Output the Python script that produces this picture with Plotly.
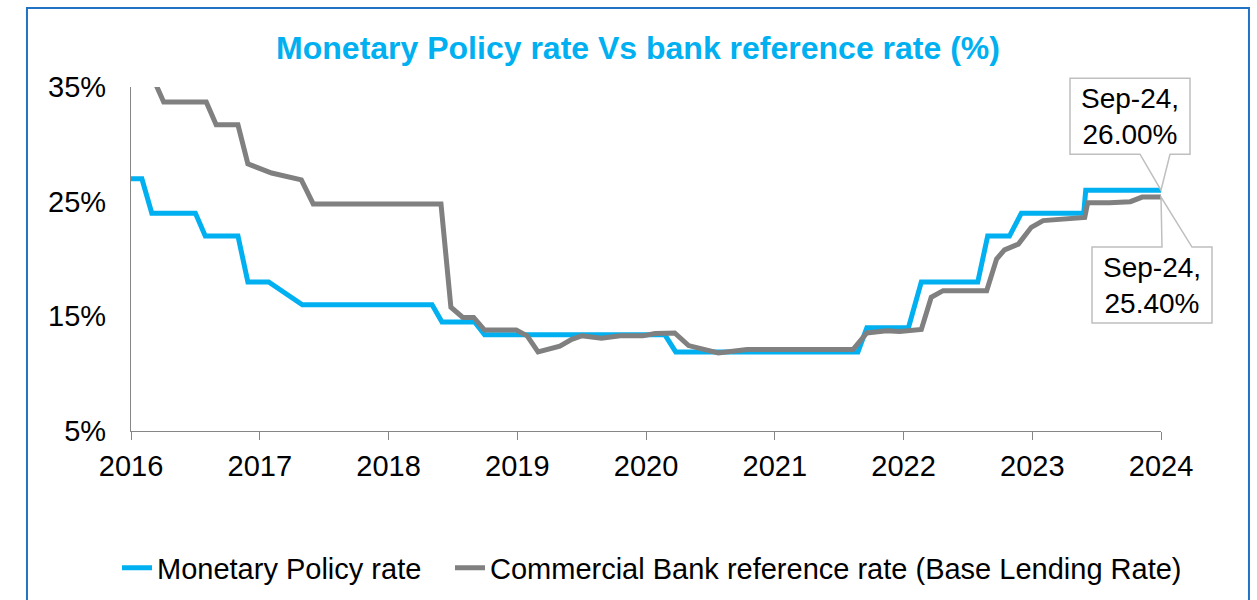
import plotly.graph_objects as go

# x positions are month indices (0 = Jan 2016, 104 = Sep 2024)
months_policy = [0, 1.1, 2.1, 6.5, 7.5, 10.8, 11.8, 13.9, 17.3, 30.4, 31.4, 34.7, 35.7,
                 53.9, 55.0, 73.4, 74.3, 78.5, 79.8, 85.5, 86.5, 88.7, 89.9, 96.2, 96.4, 104]
policy_rate = [27, 27, 24, 24, 22, 22, 18, 18, 16, 16, 14.5, 14.5, 13.4,
               13.4, 11.9, 11.9, 14, 14, 18, 18, 22, 22, 24, 24, 26, 26]

months_bank = [0, 2.0, 3.3, 7.6, 8.6, 10.8, 11.8, 12.8, 14.2, 17.2, 18.4, 31.3, 32.3, 33.5,
               34.6, 35.7, 38.9, 40.0, 41.1, 43.3, 44.5, 45.5, 47.5, 49.4, 51.7, 52.9, 54.9,
               56.3, 59.3, 62.2, 72.9, 74.3, 76.3, 77.6, 79.8, 80.8, 82.0, 86.4, 87.4, 88.2,
               89.6, 90.9, 92.1, 96.3, 96.6, 98.8, 100.9, 102.1, 104]
bank_rate = [36.2, 36.2, 33.7, 33.7, 31.7, 31.7, 28.3, 28.0, 27.5, 26.9, 24.8, 24.8, 15.8, 14.9,
             14.9, 13.8, 13.8, 13.3, 11.9, 12.4, 13.0, 13.3, 13.1, 13.3, 13.3, 13.5, 13.55,
             12.45, 11.8, 12.1, 12.1, 13.55, 13.75, 13.67, 13.85, 16.66, 17.24, 17.24, 20.0, 20.8,
             21.3, 22.76, 23.35, 23.63, 24.9, 24.9, 25.0, 25.4, 25.4]

x_tick_labels = ['2016', '2017', '2018', '2019', '2020', '2021', '2022', '2023', '2024']
x_tick_vals = [0, 13, 26, 39, 52, 65, 78, 91, 104]
y_tick_vals = [5, 15, 25, 35]
y_tick_labels = ['5%', '15%', '25%', '35%']

series_names = ['Monetary Policy rate', 'Commercial Bank reference rate (Base Lending Rate)']
end_labels = ['Sep-24,<br>26.00%', 'Sep-24,<br>25.40%']

BLUE = '#00B0F0'
GREY = '#808080'
FONT = 'Liberation Sans, Arial, sans-serif'

X_RANGE = [0, 104]
Y_RANGE = [5, 35]

fig = go.Figure()
fig.add_trace(go.Scatter(x=months_policy, y=policy_rate, mode='lines', name=series_names[0],
                         line=dict(color=BLUE, width=5), legend='legend'))
fig.add_trace(go.Scatter(x=months_bank, y=bank_rate, mode='lines', name=series_names[1],
                         line=dict(color=GREY, width=5), legend='legend2'))


def to_paper(xv, yv):
    return ((xv - X_RANGE[0]) / (X_RANGE[1] - X_RANGE[0]),
            (yv - Y_RANGE[0]) / (Y_RANGE[1] - Y_RANGE[0]))


# callouts
px1, py1 = to_paper(months_policy[-1], policy_rate[-1])
px2, py2 = to_paper(months_bank[-1], bank_rate[-1])

callout1 = 'M -91,112 L 29,112 L 29,36 L 9,36 L 0,0 L -21,36 L -91,36 Z'
callout2 = 'M -69,-50 L 1,-50 L 0,0 L 31,-50 L 51,-50 L 51,-126 L -69,-126 Z'

shapes = [
    dict(type='path', xref='paper', yref='paper', xsizemode='pixel', ysizemode='pixel',
         xanchor=px1, yanchor=py1, path=callout1, fillcolor='white',
         line=dict(color='#BFBFBF', width=1.5), layer='above'),
    dict(type='path', xref='paper', yref='paper', xsizemode='pixel', ysizemode='pixel',
         xanchor=px2, yanchor=py2, path=callout2, fillcolor='white',
         line=dict(color='#BFBFBF', width=1.5), layer='above'),
    # outer frame
    dict(type='rect', xref='paper', yref='paper', x0=-0.101, x1=1.0854, y0=-0.52, y1=1.2297,
         line=dict(color='#2272C3', width=2), fillcolor='rgba(0,0,0,0)', layer='below'),
]

annotations = [
    dict(xref='paper', yref='paper', x=px1, y=py1, xshift=-31, yshift=74, showarrow=False,
         xanchor='center', yanchor='middle',
         text=end_labels[0], font=dict(size=28, color='black', family=FONT), align='center'),
    dict(xref='paper', yref='paper', x=px2, y=py2, xshift=-9, yshift=-88, showarrow=False,
         xanchor='center', yanchor='middle',
         text=end_labels[1], font=dict(size=28, color='black', family=FONT), align='center'),
]

legend_common = dict(orientation='h', yanchor='middle', y=-0.398, xanchor='left',
                     font=dict(size=29, color='black', family=FONT),
                     bgcolor='rgba(0,0,0,0)', borderwidth=0)

fig.update_layout(
    width=1257, height=600,
    margin=dict(l=131, r=96, t=87, b=169, autoexpand=False),
    paper_bgcolor='white', plot_bgcolor='white',
    font=dict(family=FONT, size=29, color='black'),
    title=dict(text='<b>Monetary Policy rate Vs bank reference rate (%)</b>',
               font=dict(size=32, color=BLUE, family=FONT),
               x=638 / 1257, xref='container', xanchor='center',
               y=1 - 48 / 600, yref='container', yanchor='middle'),
    xaxis=dict(range=X_RANGE, tickvals=x_tick_vals, ticktext=x_tick_labels,
               showline=True, linecolor='#868686', linewidth=1.3,
               ticks='outside', ticklen=8, tickcolor='#868686', tickwidth=1.3,
               showgrid=False, zeroline=False, ticklabelstandoff=1,
               tickfont=dict(size=29, color='black')),
    yaxis=dict(range=Y_RANGE, tickvals=y_tick_vals, ticktext=y_tick_labels,
               showline=True, linecolor='#868686', linewidth=1.3, ticks='',
               showgrid=False, zeroline=False, ticklabelstandoff=18,
               tickfont=dict(size=29, color='black')),
    legend=dict(x=-0.0136, **legend_common),
    legend2=dict(x=0.3097, **legend_common),
    shapes=shapes,
    annotations=annotations,
    showlegend=True,
)

fig.write_html('out.html')
